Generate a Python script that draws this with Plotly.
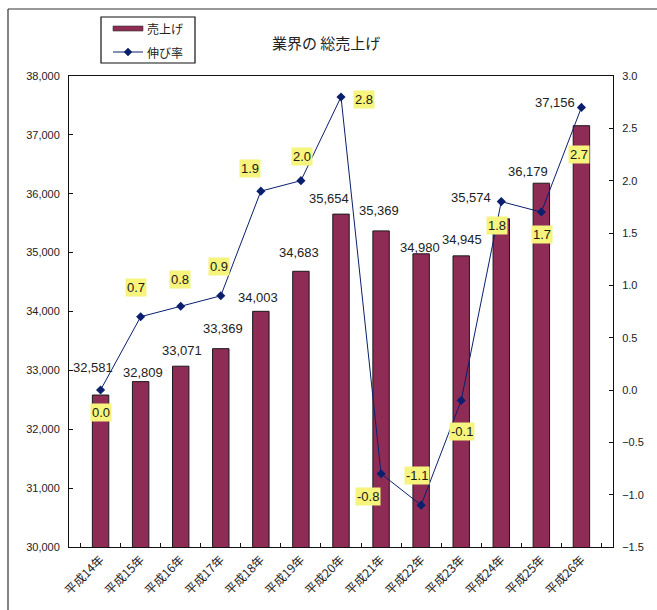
import plotly.graph_objects as go

# --- data -------------------------------------------------------------
years = ["平成14年", "平成15年", "平成16年", "平成17年", "平成18年", "平成19年",
         "平成20年", "平成21年", "平成22年", "平成23年", "平成24年", "平成25年",
         "平成26年"]
sales = [32581, 32809, 33071, 33369, 34003, 34683, 35654,
         35369, 34980, 34945, 35574, 36179, 37156]
growth = [0.0, 0.7, 0.8, 0.9, 1.9, 2.0, 2.8, -0.8, -1.1, -0.1, 1.8, 1.7, 2.7]

sales_ticks = [30000, 31000, 32000, 33000, 34000, 35000, 36000, 37000, 38000]
growth_ticks = [-1.5, -1.0, -0.5, 0.0, 0.5, 1.0, 1.5, 2.0, 2.5, 3.0]

# --- styling ----------------------------------------------------------
W, H = 657, 610
ML, MR, MT, MB = 69, 44, 76, 63
BAR_COLOR = "#8E2C55"
LINE_COLOR = "#0A1F6E"
LABEL_BG = "#F6F47C"
NUM_FONT = "Liberation Sans, Arial, Noto Sans CJK JP"
JP_FONT = "Noto Sans CJK JP, Noto Sans"

# pixel offsets (x, y-up) of each value label from its mark
sales_label_shift = [(-8, 28), (2, 9), (1, 16), (2, 20), (-3, 14), (-2, 19), (-12, 16),
                     (-2, 20), (-1, 6), (1, 16), (-30, 21), (-13, 12), (-26, 23)]
growth_label_shift = [(0, -22), (-5, 29), (-1, 27), (-2, 29), (-11, 23), (1, 24), (23, -3),
                      (-13, -23), (-4, 30), (1, -31), (-4, -24), (1, -22), (-2, -47)]


def px_x(x):
    return (x - ML) / (W - ML - MR)


def px_y(y):
    return (H - MB - y) / (H - MT - MB)


fig = go.Figure()

fig.add_trace(go.Bar(
    x=years, y=sales, name="売上げ",
    marker=dict(color=BAR_COLOR, line=dict(color="#1a1a1a", width=1)),
    width=0.41, showlegend=False,
))

fig.add_trace(go.Scatter(
    x=years, y=growth, name="伸び率", yaxis="y2", mode="lines+markers",
    line=dict(color=LINE_COLOR, width=1),
    marker=dict(symbol="diamond", size=7, color=LINE_COLOR),
    showlegend=False,
))

annotations = []
for yr, v, (dx, dy) in zip(years, sales, sales_label_shift):
    annotations.append(dict(
        x=yr, y=v, xref="x", yref="y", text=f"{v:,}", showarrow=False,
        xshift=dx, yshift=dy, font=dict(family=NUM_FONT, size=13, color="#222222"),
    ))
for yr, g, (dx, dy) in zip(years, growth, growth_label_shift):
    annotations.append(dict(
        x=yr, y=g, xref="x", yref="y2", text=f"{g:.1f}", showarrow=False,
        xshift=dx, yshift=dy, bgcolor=LABEL_BG, borderpad=1,
        font=dict(family=NUM_FONT, size=13, color="#1a1a1a"),
    ))

# title
annotations.append(dict(
    x=px_x(326), y=px_y(42), xref="paper", yref="paper", text="業界の 総売上げ",
    xanchor="center", yanchor="middle",
    showarrow=False, font=dict(family=JP_FONT, size=15, color="#222222"),
))

# legend texts
annotations.append(dict(
    x=px_x(145), y=px_y(28), xref="paper", yref="paper", text="売上げ",
    xanchor="left", yanchor="middle",
    showarrow=False, font=dict(family=JP_FONT, size=12, color="#222222"),
))
annotations.append(dict(
    x=px_x(145), y=px_y(52), xref="paper", yref="paper", text="伸び率",
    xanchor="left", yanchor="middle",
    showarrow=False, font=dict(family=JP_FONT, size=12, color="#222222"),
))

shapes = [
    # outer frame (top and left edges)
    dict(type="line", xref="paper", yref="paper", x0=px_x(8), x1=px_x(700),
         y0=px_y(9), y1=px_y(9), line=dict(color="#333333", width=1.2)),
    dict(type="line", xref="paper", yref="paper", x0=px_x(8), x1=px_x(8),
         y0=px_y(9), y1=px_y(700), line=dict(color="#333333", width=1.2)),
    # legend box
    dict(type="rect", xref="paper", yref="paper", x0=px_x(101), x1=px_x(195),
         y0=px_y(17), y1=px_y(63), line=dict(color="#111111", width=1.2),
         fillcolor="white"),
    # legend swatch: bars
    dict(type="rect", xref="paper", yref="paper", x0=px_x(113), x1=px_x(143),
         y0=px_y(26), y1=px_y(31), line=dict(color="#333333", width=0.6),
         fillcolor=BAR_COLOR),
    # legend swatch: line with diamond
    dict(type="line", xref="paper", yref="paper", x0=px_x(113), x1=px_x(143),
         y0=px_y(52), y1=px_y(52), line=dict(color=LINE_COLOR, width=1)),
    dict(type="path", xref="paper", yref="paper",
         path=(f"M {px_x(128)},{px_y(48)} L {px_x(132)},{px_y(52)} "
               f"L {px_x(128)},{px_y(56)} L {px_x(124)},{px_y(52)} Z"),
         fillcolor=LINE_COLOR, line=dict(color=LINE_COLOR, width=0.5)),
]

fig.update_layout(
    width=W, height=H,
    margin=dict(l=ML, r=MR, t=MT, b=MB, pad=0),
    paper_bgcolor="white", plot_bgcolor="white",
    bargap=0.59,
    showlegend=False,
    annotations=annotations,
    shapes=shapes,
    xaxis=dict(
        type="category", tickangle=-45, showline=True, linecolor="#111111", linewidth=1,
        mirror=True, ticks="inside", ticklen=4, tickcolor="#111111",
        tickson="boundaries", showgrid=False,
        tickfont=dict(family=JP_FONT, size=12, color="#222222"),
    ),
    yaxis=dict(
        range=[30000, 38000], tickvals=sales_ticks, tickformat=",d",
        showline=True, linecolor="#111111", linewidth=1, ticks="inside", ticklen=4,
        tickcolor="#111111", showgrid=False, zeroline=False,
        tickfont=dict(family=NUM_FONT, size=11, color="#222222"), ticklabelstandoff=6,
    ),
    yaxis2=dict(
        range=[-1.5, 3.0], tickvals=growth_ticks, tickformat=".1f", overlaying="y",
        side="right", showline=True, linecolor="#111111", linewidth=1, ticks="inside",
        ticklen=4, tickcolor="#111111", showgrid=False, zeroline=False,
        tickfont=dict(family=NUM_FONT, size=11, color="#222222"), ticklabelstandoff=6,
    ),
)

fig.write_html("out.html")
